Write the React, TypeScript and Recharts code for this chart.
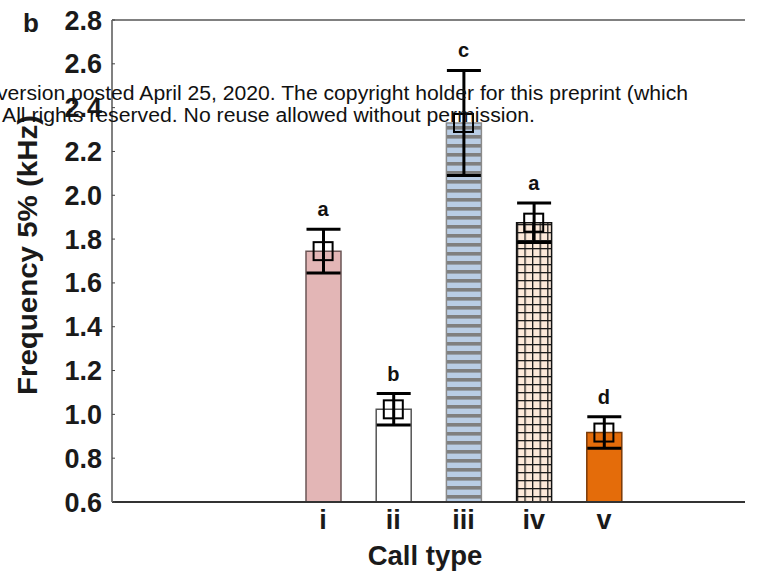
import { ComposedChart, Bar, ErrorBar, Scatter, XAxis, YAxis, ReferenceLine, Cell } from "recharts";

const callTypes = ["i", "ii", "iii", "iv", "v"];
const meanFreq = [1.745, 1.023, 2.33, 1.875, 0.917];
const semFreq = [0.1, 0.072, 0.24, 0.09, 0.072];
const groupLetters = ["a", "b", "c", "a", "d"];
const yTicks = [0.6, 0.8, 1.0, 1.2, 1.4, 1.6, 1.8, 2.0, 2.2, 2.4, 2.6, 2.8];

const BAR_FILLS = ["#e3b6b6", "#ffffff", "url(#hstripe)", "url(#cellgrid)", "#e46c0a"];
const BAR_STROKES = ["#6b5555", "#555555", "#8a8a8a", "#111111", "#7a3a08"];

const FONT = "'Liberation Sans', Arial, sans-serif";

const data = callTypes.map((name, i) => ({
  name,
  mean: meanFreq[i],
  err: semFreq[i],
  top: meanFreq[i] + semFreq[i],
  letter: groupLetters[i],
}));

const MeanSquare = (props: any) => {
  const { cx, cy } = props;
  if (cx == null || cy == null) return null;
  return <rect x={cx - 9.5} y={cy - 9} width={19} height={18} fill="none" stroke="#000" strokeWidth={2} />;
};

const GroupLetter = (props: any) => {
  const { cx, cy, payload } = props;
  if (cx == null || cy == null) return null;
  return (
    <text x={cx} y={cy - 13} textAnchor="middle" fontFamily={FONT} fontWeight="bold" fontSize={20} fill="#111">
      {payload.letter}
    </text>
  );
};

export default function App() {
  return (
    <div style={{ position: "absolute", left: 0, top: 0, width: 757, height: 576, background: "#fff" }}>
      <ComposedChart width={757} height={576} data={data} margin={{ top: 20, right: 12, bottom: 0, left: 0 }}>
        <defs>
          <pattern id="hstripe" patternUnits="userSpaceOnUse" width={9} height={9}>
            <rect x={0} y={0} width={9} height={9} fill="#b9cde5" />
            <rect x={0} y={0} width={9} height={3.6} fill="#7f7f7f" />
          </pattern>
          <pattern id="cellgrid" patternUnits="userSpaceOnUse" width={7.6} height={8}>
            <rect x={0} y={0} width={7.6} height={8} fill="#fde9d9" />
            <rect x={0} y={0} width={1.3} height={8} fill="#1a1a1a" />
            <rect x={0} y={0} width={7.6} height={1.3} fill="#1a1a1a" />
          </pattern>
        </defs>
        <XAxis
          dataKey="name"
          padding={{ left: 176, right: 106 }}
          height={74}
          tickLine={false}
          tickSize={0}
          tickMargin={8}
          axisLine={{ stroke: "#333", strokeWidth: 2 }}
          tick={{ fontFamily: FONT, fontWeight: "bold", fontSize: 27, fill: "#1a1a1a" }}
          label={{
            content: () => (
              <text x={425} y={565} textAnchor="middle" fontFamily={FONT} fontWeight="bold" fontSize={27.5} fill="#1a1a1a">
                Call type
              </text>
            ),
          }}
        />
        <YAxis
          width={112}
          domain={[0.6, 2.8]}
          ticks={yTicks}
          allowDataOverflow
          tickFormatter={(v: number) => v.toFixed(1)}
          axisLine={{ stroke: "#808080", strokeWidth: 2 }}
          tickLine={{ stroke: "#444" }}
          tickSize={-3}
          tickMargin={13}
          tick={{ fontFamily: FONT, fontWeight: "bold", fontSize: 27, fill: "#1a1a1a" }}
          label={{
            content: () => (
              <text
                x={37}
                y={255}
                transform="rotate(-90 37 255)"
                textAnchor="middle"
                fontFamily={FONT}
                fontWeight="bold"
                fontSize={28}
                textLength={280}
                lengthAdjust="spacingAndGlyphs"
                fill="#1a1a1a"
              >
                Frequency 5% (kHz)
              </text>
            ),
          }}
        />
        <YAxis
          yAxisId="right"
          orientation="right"
          width={0}
          domain={[0.6, 2.8]}
          ticks={yTicks}
          allowDataOverflow
          axisLine={{ stroke: "#808080", strokeWidth: 2 }}
          tickLine={{ stroke: "#444" }}
          tickSize={-3}
          tick={() => <g />}
        />
        <ReferenceLine y={2.8} stroke="#808080" strokeWidth={2} ifOverflow="visible" />
        <Bar dataKey="mean" barSize={35} strokeWidth={1.5} isAnimationActive={false}>
          {data.map((d, i) => (
            <Cell key={d.name} fill={BAR_FILLS[i]} stroke={BAR_STROKES[i]} />
          ))}
          <ErrorBar dataKey="err" width={17} strokeWidth={3} stroke="#000" isAnimationActive={false} />
        </Bar>
        <Scatter dataKey="mean" shape={MeanSquare} isAnimationActive={false} />
        <Scatter dataKey="top" shape={GroupLetter} isAnimationActive={false} />
      </ComposedChart>
      <svg width={757} height={576} style={{ position: "absolute", left: 0, top: 0, pointerEvents: "none" }}>
        <text x={23} y={31.5} fontFamily={FONT} fontWeight="bold" fontSize={26} fill="#1a1a1a">
          b
        </text>
        <text x={-3} y={100} fontFamily={FONT} fontSize={20} textLength={691} lengthAdjust="spacingAndGlyphs" fill="#111">
          version posted April 25, 2020. The copyright holder for this preprint (which
        </text>
        <text x={2} y={122} fontFamily={FONT} fontSize={20} textLength={533} lengthAdjust="spacingAndGlyphs" fill="#111">
          All rights reserved. No reuse allowed without permission.
        </text>
      </svg>
    </div>
  );
}
